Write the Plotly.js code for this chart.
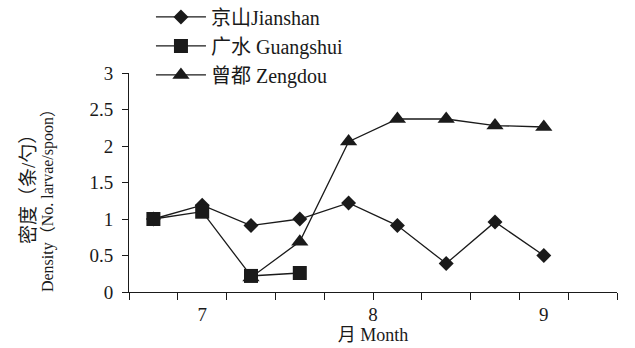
<!DOCTYPE html>
<html>
<head>
<meta charset="utf-8">
<script src="https://cdn.plot.ly/plotly-3.0.1.min.js"></script>
<style>
  html, body { margin: 0; padding: 0; background: #fff; }
  #chart { width: 635px; height: 348px; }
</style>
</head>
<body>
<div id="chart"></div>
<script>
// Sampling slots along the season (one category per survey)
const slots = [0, 1, 2, 3, 4, 5, 6, 7, 8];
// Month labels and the slot position each one sits under
const monthLabels = ['7', '8', '9'];
const monthLabelPos = [1, 4.5, 8];
// Category boundaries that carry the x tick marks
const slotEdges = [-0.5, 0.5, 1.5, 2.5, 3.5, 4.5, 5.5, 6.5, 7.5, 8.5, 9.5];

// Larval density (No. larvae / spoon) per site
const jianshan = [1.0, 1.19, 0.91, 1.0, 1.22, 0.91, 0.39, 0.96, 0.50];
const guangshui = [1.0, 1.1, 0.22, 0.26];
const zengdou = [null, null, 0.2, 0.69, 2.06, 2.37, 2.37, 2.28, 2.26];

const seriesNames = ['京山Jianshan', '广水 Guangshui', '曾都 Zengdou'];
const yTitleLines = ['密度（条/勺）', 'Density（No. larvae/spoon）'];
const xTitle = '月 Month';

const serif = '"Liberation Serif", "Times New Roman", "Noto Sans CJK SC", serif';
const ink = '#1a1a1a';

const line = { color: ink, width: 1.3 };

// Drawing order: triangles, diamonds, then squares on top
const traces = [
  {
    x: slots, y: zengdou, name: seriesNames[2], legendrank: 3,
    mode: 'lines+markers', line: line,
    marker: { symbol: 'triangle-up', size: 15, color: ink },
    connectgaps: false
  },
  {
    x: slots, y: jianshan, name: seriesNames[0], legendrank: 1,
    mode: 'lines+markers', line: line,
    marker: { symbol: 'diamond', size: 11.5, color: ink }
  },
  {
    x: slots.slice(0, guangshui.length), y: guangshui, name: seriesNames[1], legendrank: 2,
    mode: 'lines+markers', line: line,
    marker: { symbol: 'square', size: 14, color: ink }
  },
  // invisible carrier for the month labels axis
  {
    x: monthLabelPos, y: [null, null, null], xaxis: 'x2',
    mode: 'markers', showlegend: false, hoverinfo: 'skip'
  }
];

const layout = {
  width: 635, height: 348,
  margin: { l: 129, r: 18, t: 73, b: 56, autoexpand: false },
  paper_bgcolor: '#fff', plot_bgcolor: '#fff',
  font: { family: serif, size: 18, color: ink },
  showlegend: true,
  legend: {
    x: 0.045, y: 1.345, xanchor: 'left', yanchor: 'top',
    bgcolor: 'rgba(0,0,0,0)',
    font: { family: serif, size: 20, color: ink },
    itemwidth: 50, tracegroupgap: 0
  },
  xaxis: {
    range: [-0.5, 9.5], tickmode: 'array', tickvals: slotEdges,
    ticktext: slotEdges.map(() => ''),
    ticks: 'outside', ticklen: 7, tickwidth: 1, tickcolor: ink,
    showline: true, linecolor: ink, linewidth: 1,
    showgrid: false, zeroline: false, fixedrange: true
  },
  xaxis2: {
    overlaying: 'x', anchor: 'y', side: 'bottom',
    range: [-0.5, 9.5], tickmode: 'array', tickvals: monthLabelPos, ticktext: monthLabels,
    ticks: 'outside', ticklen: 5, tickcolor: 'rgba(0,0,0,0)',
    showline: false, showgrid: false, zeroline: false,
    tickfont: { family: serif, size: 19, color: ink },
    title: { text: xTitle, font: { family: serif, size: 18, color: ink }, standoff: 4 }
  },
  yaxis: {
    range: [0, 3], tickmode: 'linear', tick0: 0, dtick: 0.5,
    ticks: 'outside', ticklen: 6, tickwidth: 1, tickcolor: ink,
    showline: true, linecolor: ink, linewidth: 1,
    showgrid: false, zeroline: false, ticklabelstandoff: 5,
    tickfont: { family: serif, size: 19, color: ink }
  },
  annotations: [
    {
      text: yTitleLines[0], textangle: -90, showarrow: false,
      xref: 'paper', yref: 'paper', x: -0.207, y: 0.493,
      xanchor: 'center', yanchor: 'middle',
      font: { family: serif, size: 19, color: ink }
    },
    {
      text: yTitleLines[1], textangle: -90, showarrow: false,
      xref: 'paper', yref: 'paper', x: -0.166, y: 0.438,
      xanchor: 'center', yanchor: 'middle',
      font: { family: serif, size: 16, color: ink }
    }
  ]
};

Plotly.newPlot('chart', traces, layout, { staticPlot: true, displayModeBar: false });
</script>
</body>
</html>
